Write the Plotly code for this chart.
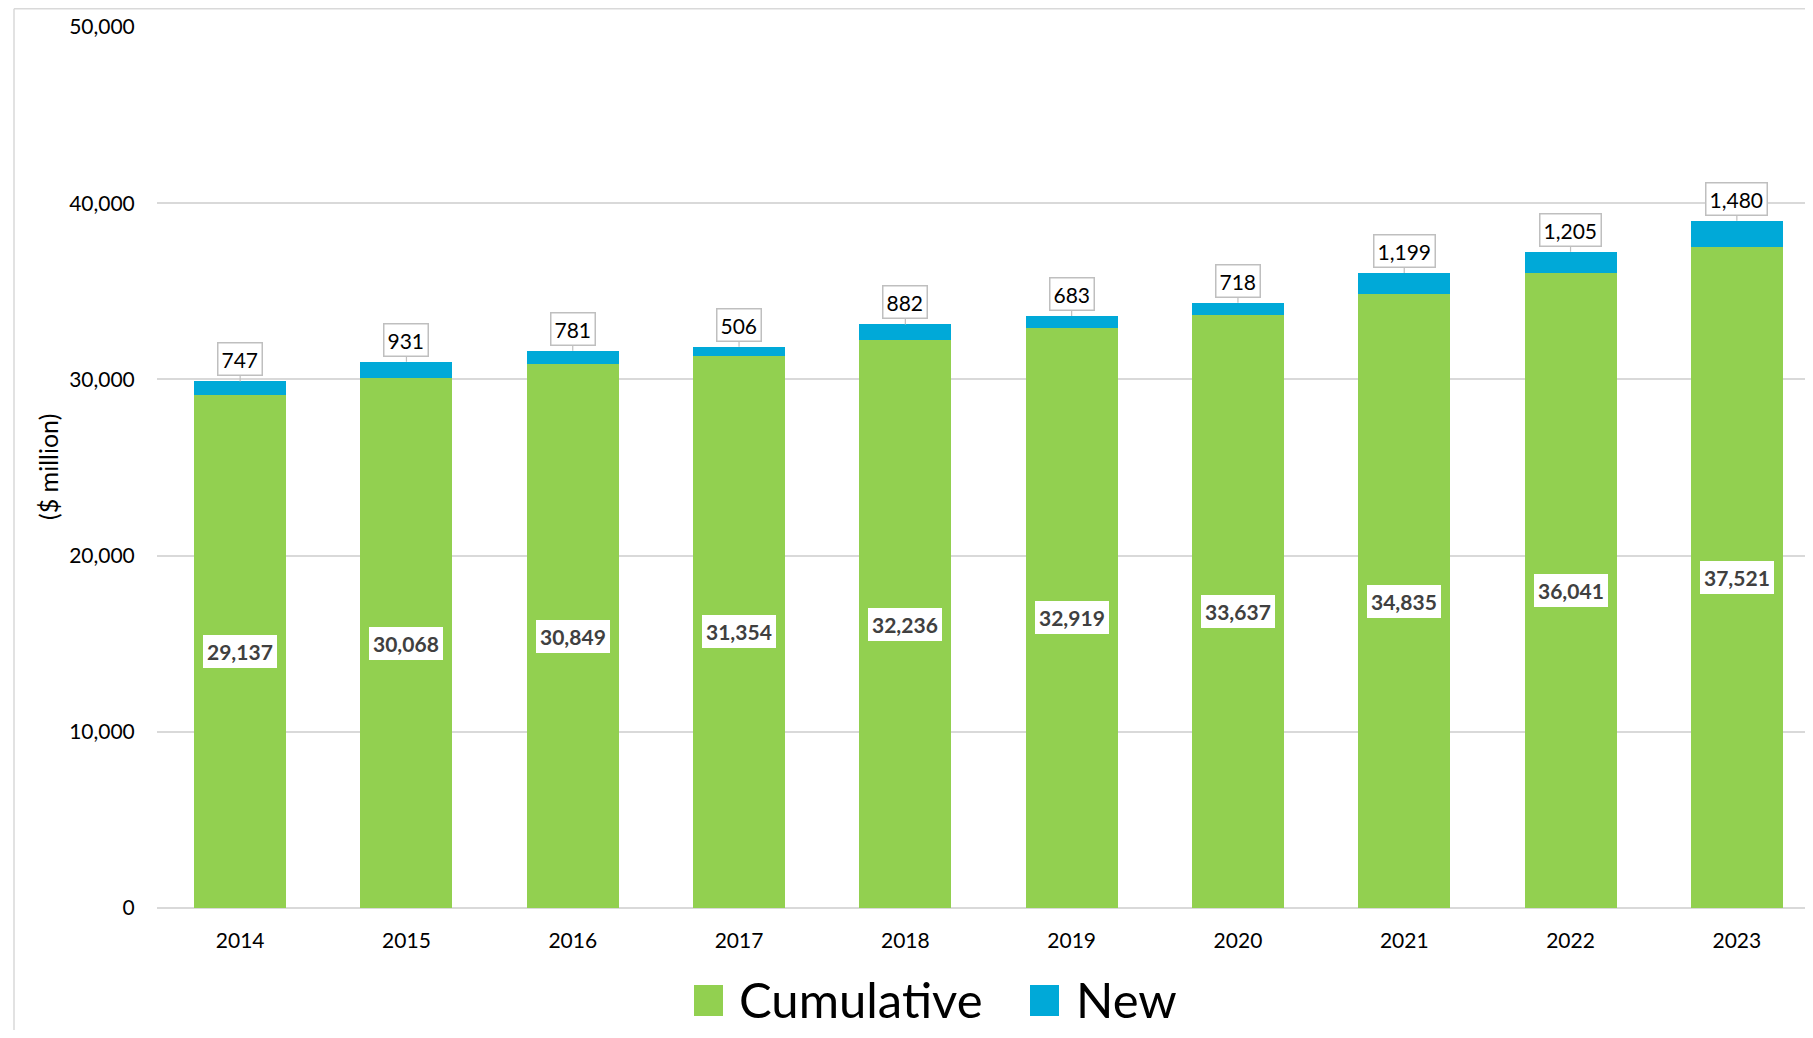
import plotly.graph_objects as go

years = ["2014", "2015", "2016", "2017", "2018", "2019", "2020", "2021", "2022", "2023"]
cumulative = [29137, 30068, 30849, 31354, 32236, 32919, 33637, 34835, 36041, 37521]
new = [747, 931, 781, 506, 882, 683, 718, 1199, 1205, 1480]
y_ticks = [0, 10000, 20000, 30000, 40000, 50000]

GREEN = "#92D050"
BLUE = "#00A9D8"
GRID = "#D9D9D9"
FONT = "Lato"

# page body has an 8px margin; the figure is placed at (8, 8)
OFF = 8
W, H = 1813 - 2 * OFF, 1038 - 2 * OFF
L = 157 - OFF
T = 27 - OFF
PLOT_BOTTOM = 908 - OFF
B = H - PLOT_BOTTOM
R = 0
PW, PH = W - L - R, H - T - B
BAND = 166.3
x_end = -0.5 + PW / BAND


def px_x(sx):
    return (sx - OFF - L) / PW


def px_y(sy):
    return (PLOT_BOTTOM - (sy - OFF)) / PH


fig = go.Figure()
fig.add_trace(go.Bar(x=years, y=cumulative, name="Cumulative", marker=dict(color=GREEN, line=dict(width=0)),
                     showlegend=False, hoverinfo="x+y"))
fig.add_trace(go.Bar(x=years, y=new, name="New", marker=dict(color=BLUE, line=dict(width=0)),
                     showlegend=False, hoverinfo="x+y"))

annotations = []
for i, yr in enumerate(years):
    c = cumulative[i]
    n = new[i]
    annotations.append(dict(
        x=i, y=c / 2, xref="x", yref="y", text=f"{c:,}", showarrow=False,
        font=dict(family=FONT, size=21, color="#404040", weight="bold"),
        bgcolor="white", borderpad=4, borderwidth=0,
    ))
    annotations.append(dict(
        x=i, y=c + n, xref="x", yref="y", text=f"{n:,}", showarrow=True,
        arrowhead=0, arrowwidth=1.2, arrowcolor="#BFBFBF", ax=0, ay=-22, standoff=0,
        font=dict(family=FONT, size=21, color="#000000"),
        bgcolor="white", bordercolor="#BFBFBF", borderwidth=1.5, borderpad=3,
    ))

# y-axis title
annotations.append(dict(
    x=px_x(48), y=px_y(467), xref="paper", yref="paper", text="($ million)", textangle=-90,
    showarrow=False, font=dict(family=FONT, size=25, color="#000000"),
    xanchor="center", yanchor="middle",
))

# legend (drawn manually to match large swatches)
legend_items = [("Cumulative", GREEN, 694, 739), ("New", BLUE, 1030, 1076)]
shapes = []
for name, col, x0, tx in legend_items:
    shapes.append(dict(type="rect", xref="paper", yref="paper",
                       x0=px_x(x0), x1=px_x(x0 + 29), y0=px_y(1016), y1=px_y(985),
                       fillcolor=col, line=dict(width=0)))
    annotations.append(dict(
        x=px_x(tx - 2), y=px_y(999), xref="paper", yref="paper", text=name, showarrow=False,
        xanchor="left", yanchor="middle", font=dict(family=FONT, size=49, color="#000000"),
    ))

# chart area border (top and left)
shapes.append(dict(type="line", xref="paper", yref="paper", x0=px_x(14), x1=px_x(1813 + 10),
                   y0=px_y(OFF + 0.8), y1=px_y(OFF + 0.8), line=dict(color=GRID, width=1.5)))
shapes.append(dict(type="line", xref="paper", yref="paper", x0=px_x(14), x1=px_x(14),
                   y0=px_y(OFF + 0.8), y1=px_y(1038 + 10), line=dict(color=GRID, width=1.5)))

fig.update_layout(
    width=W, height=H,
    margin=dict(l=L, r=R, t=T, b=B, pad=0),
    barmode="stack", bargap=0.447,
    plot_bgcolor="white", paper_bgcolor="white",
    font=dict(family=FONT, size=21, color="#000000"),
    annotations=annotations, shapes=shapes,
    xaxis=dict(type="category", range=[-0.5, x_end], showgrid=False, showline=False,
               ticks="outside", ticklen=14, tickcolor="rgba(0,0,0,0)",
               tickfont=dict(family=FONT, size=21, color="#000000"), fixedrange=True),
    yaxis=dict(range=[0, 50000], tickvals=y_ticks, ticktext=[f"{v:,}" for v in y_ticks],
               showgrid=True, gridcolor=GRID, gridwidth=1.5, zeroline=True, zerolinecolor=GRID,
               zerolinewidth=1.5, showline=False, ticks="outside", ticklen=17,
               tickcolor="rgba(0,0,0,0)", tickfont=dict(family=FONT, size=21, color="#000000"),
               fixedrange=True),
)

fig.write_html("out.html")
